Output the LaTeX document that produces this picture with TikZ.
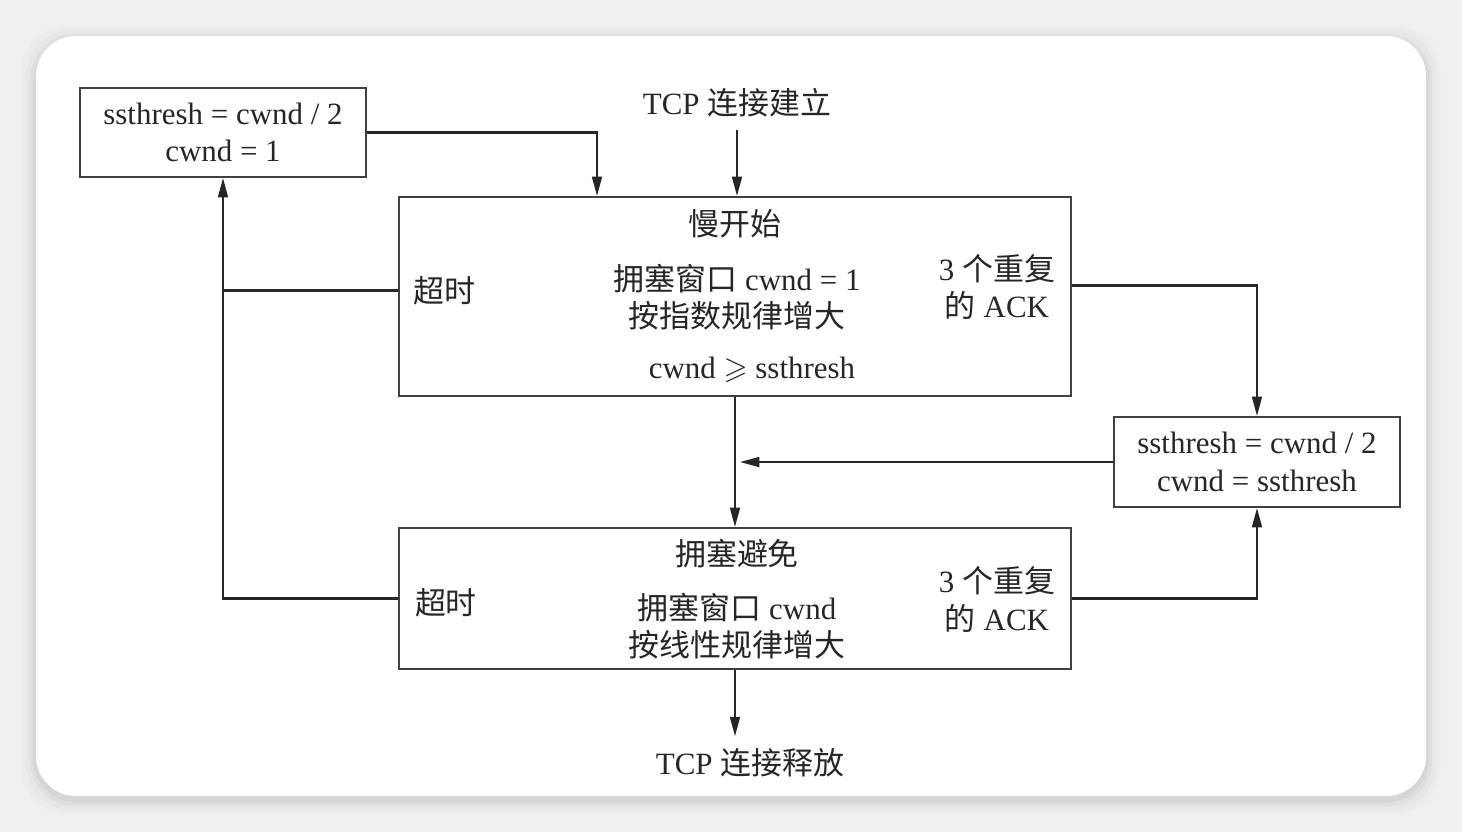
\documentclass[tikz,border=0pt]{standalone}
\usepackage{fontspec}
\usepackage{amssymb}
\setmainfont{Liberation Serif}
\newfontfamily\cjk{Noto Sans CJK SC}
\newcommand{\zh}[1]{{\cjk #1}}
\usetikzlibrary{arrows.meta,calc}

\begin{document}
\begin{tikzpicture}[x=0.01cm,y=-0.01cm,
    font=\fontsize{8.8pt}{10.6pt}\selectfont,text=black!85,
    box/.style={draw=black!75,line width=0.55pt},
    line/.style={draw=black!85,line width=0.6pt},
    arr/.style={line,-{Triangle[length=5.5pt,width=2.8pt]}}]
  % background card
  \fill[black!6] (0,0) rectangle (1462,832);
  \foreach \d/\o in {14/0.015,10/0.02,6/0.03,3/0.04}
    \fill[black,opacity=\o,rounded corners=0.45cm] (36-\d,36-\d+4) rectangle (1426+\d,796+\d+4);
  \fill[white,rounded corners=0.4cm] (36,36) rectangle (1426,796);
  \useasboundingbox (0,0) rectangle (1462,832);

  % boxes
  \node[box,minimum width=2.86cm,minimum height=0.89cm,align=center] (reset1) at (223,132.5) {ssthresh = cwnd / 2\\cwnd = 1};
  \node[box,minimum width=2.86cm,minimum height=0.90cm,align=center] (reset3) at (1257,462) {ssthresh = cwnd / 2\\cwnd = ssthresh};
  \node[box,minimum width=6.71cm,minimum height=1.99cm] (slow) at (735,296.5) {};
  \node[box,minimum width=6.71cm,minimum height=1.41cm] (ca) at (735,598.5) {};

  % texts
  \node (est) at (737,103) {TCP \zh{连接建立}};
  \node (rel) at (750,763) {TCP \zh{连接释放}};
  \node (slowt) at (735,224) {\zh{慢开始}};
  \node[align=center] (slowx) at (737,297) {\zh{拥塞窗口} cwnd = 1\\\zh{按指数规律增大}};
  \node (slowc) at (752,370) {cwnd $\geqslant$ ssthresh};
  \node (slowto) at (444,291) {\zh{超时}};
  \node[align=center] (slowdup) at (997,287) {3 \zh{个重复}\\\zh{的} ACK};
  \node (cat) at (737,554) {\zh{拥塞避免}};
  \node[align=center] (cax) at (737,626.5) {\zh{拥塞窗口} cwnd\\\zh{按线性规律增大}};
  \node (cato) at (446,603) {\zh{超时}};
  \node[align=center] (cadup) at (997,599.5) {3 \zh{个重复}\\\zh{的} ACK};

  % connectors
  \coordinate (in1) at (597,0);
  \coordinate (to1) at ($(slow.west)+(0,-6)$);
  \coordinate (dup1) at ($(slow.east)+(0,-11)$);
  \draw[arr] (est.south) -- (est.south |- slow.north);
  \draw[arr] (reset1.east) -| (slow.north -| in1);
  \draw[line] (to1) -- (to1 -| reset1.south);
  \draw[arr] (ca.west) -| (reset1.south);
  \draw[arr] (dup1) -| (reset3.north);
  \draw[arr] (ca.east) -| (reset3.south);
  \draw[arr,shorten >=1.4pt] (reset3.west) -- (reset3.west -| slow.south);
  \draw[arr] (slow.south) -- (ca.north);
  \draw[arr] (ca.south) -- (ca.south |- rel.north);
\end{tikzpicture}
\end{document}
